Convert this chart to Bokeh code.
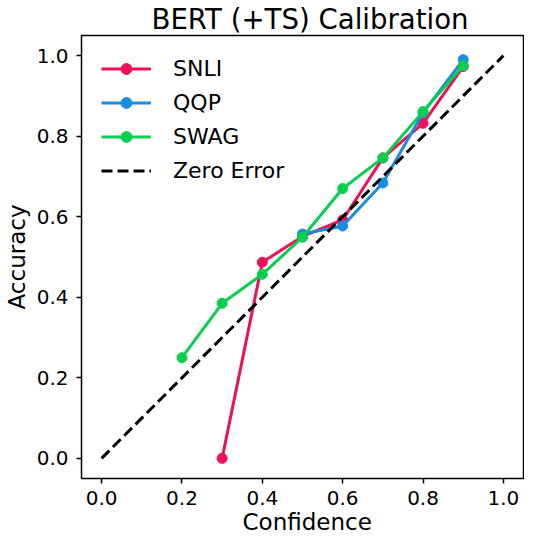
from bokeh.plotting import figure
from bokeh.models import Range1d, FixedTicker, Legend, LegendItem, Title
from bokeh.embed import file_html
from bokeh.resources import INLINE

# ---- data ----
snli_conf = [0.3, 0.4, 0.5, 0.6, 0.7, 0.8, 0.9]
snli_acc = [0.0, 0.487, 0.551, 0.592, 0.746, 0.832, 0.973]

qqp_conf = [0.5, 0.6, 0.7, 0.8, 0.9]
qqp_acc = [0.557, 0.577, 0.684, 0.858, 0.990]

swag_conf = [0.2, 0.3, 0.4, 0.5, 0.6, 0.7, 0.8, 0.9]
swag_acc = [0.250, 0.385, 0.457, 0.549, 0.670, 0.746, 0.861, 0.975]

zero_conf = [0.0, 1.0]
zero_acc = [0.0, 1.0]

tick_values = [0.0, 0.2, 0.4, 0.6, 0.8, 1.0]
tick_labels = ["0.0", "0.2", "0.4", "0.6", "0.8", "1.0"]

FONT = "DejaVu Sans"
C_SNLI = "#EE105A"
C_QQP = "#1A8CE0"
C_SWAG = "#08CF4E"

p = figure(width=524, height=533, output_backend="svg", toolbar_location=None,
           title="BERT (+TS) Calibration",
           x_range=Range1d(-0.05, 1.05), y_range=Range1d(-0.05, 1.05),
           min_border_left=77, min_border_right=1, min_border_bottom=30, min_border_top=27)

p.title.text_font = FONT
p.title.text_font_size = "27.6px"
p.title.text_font_style = "normal"
p.title.align = "left"
p.title.offset = 70
p.title.standoff = 0
p.title.text_color = "black"

p.xgrid.visible = False
p.ygrid.visible = False
p.outline_line_color = "black"
p.outline_line_width = 1.5
p.outline_line_alpha = 1.0

for ax in (p.xaxis, p.yaxis):
    ax.ticker = FixedTicker(ticks=tick_values)
    ax.major_label_overrides = {v: l for v, l in zip(tick_values, tick_labels)}
    ax.minor_tick_line_color = None
    ax.major_tick_in = 0
    ax.major_tick_out = 5
    ax.major_tick_line_width = 1.5
    ax.axis_line_color = None
    ax.major_label_text_font = FONT
    ax.major_label_text_font_size = "20px"
    ax.major_label_text_color = "black"
    ax.axis_label_text_font = FONT
    ax.axis_label_text_font_size = "23px"
    ax.axis_label_text_font_style = "normal"
    ax.axis_label_text_color = "black"

p.yaxis.axis_label = "Accuracy"
p.xaxis.major_label_standoff = 7
p.yaxis.major_label_standoff = 8
p.yaxis.axis_label_standoff = 4

# x-axis label as a bottom title so it can sit close to the lower edge
xlabel = Title(text="Confidence", align="left", offset=161, vertical_align="bottom",
               standoff=-2, text_font=FONT, text_font_size="23px",
               text_font_style="normal", text_color="black")
p.add_layout(xlabel, "below")

LW = 3
MS = 10

l1 = p.line(snli_conf, snli_acc, line_color=C_SNLI, line_width=LW)
s1 = p.scatter(snli_conf, snli_acc, size=MS, fill_color=C_SNLI, line_color=C_SNLI)
l2 = p.line(qqp_conf, qqp_acc, line_color=C_QQP, line_width=LW)
s2 = p.scatter(qqp_conf, qqp_acc, size=MS, fill_color=C_QQP, line_color=C_QQP)
l3 = p.line(swag_conf, swag_acc, line_color=C_SWAG, line_width=LW)
s3 = p.scatter(swag_conf, swag_acc, size=MS, fill_color=C_SWAG, line_color=C_SWAG)
l4 = p.line(zero_conf, zero_acc, line_color="black", line_width=3, line_dash="11 5")

legend = Legend(items=[
    LegendItem(label="SNLI", renderers=[l1, s1]),
    LegendItem(label="QQP", renderers=[l2, s2]),
    LegendItem(label="SWAG", renderers=[l3, s3]),
    LegendItem(label="Zero Error", renderers=[l4]),
], location="top_left")
legend.label_text_font = FONT
legend.label_text_font_size = "22px"
legend.label_text_color = "black"
legend.glyph_width = 50
legend.glyph_height = 27
legend.label_height = 27
legend.label_standoff = 22
legend.spacing = 7
legend.margin = 20
legend.padding = 0
legend.border_line_color = None
legend.background_fill_alpha = 0.0
p.add_layout(legend)

open("out.html", "w").write(file_html(p, INLINE))
